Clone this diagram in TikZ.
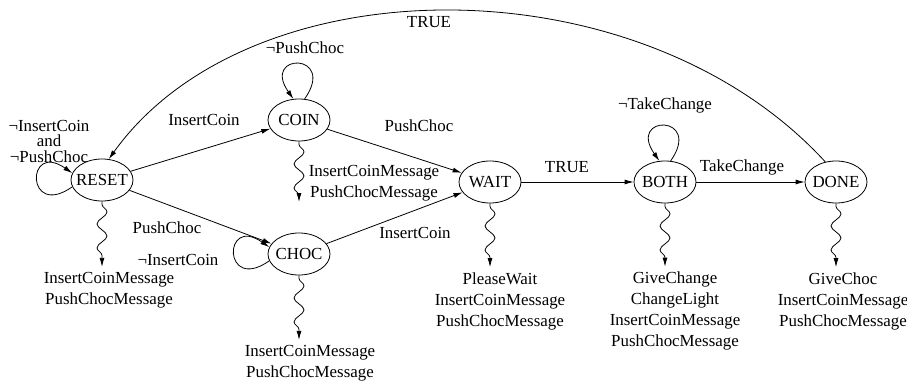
\documentclass[tikz,border=0pt]{standalone}
\usepackage{fontspec}
\setmainfont{Liberation Serif}
\usetikzlibrary{shapes.geometric,arrows.meta,decorations.pathmorphing}
\newcommand{\stname}[1]{\makebox[0pt]{#1}}
\tikzset{
	every node/.style={font=\fontsize{16.9}{21}\selectfont},
	state/.style={draw, ellipse, line width=0.8pt, minimum width=62pt, minimum height=42pt, inner sep=0pt},
	trans/.style={->, line width=0.8pt},
	selfloop/.style={->, line width=0.8pt, min distance=57pt},
	emit/.style={->, line width=0.8pt, shorten >=3pt, decorate,
		decoration={snake, amplitude=5pt, segment length=24pt, pre length=3pt, post length=8pt}},
	outtext/.style={align=center, inner sep=2pt},
	>={Latex[length=9pt,width=5pt]}
}

\begin{document}
\begin{tikzpicture}[x=1pt,y=-1pt]
			\useasboundingbox (0,0) rectangle (907,385);
			% states
			\node[state] (reset) at (102,180) {\stname{RESET}};
			\node[state] (coin) at (299,120) {\stname{COIN}};
			\node[state] (choc) at (299,254) {\stname{CHOC}};
			\node[state] (wait) at (490,182) {\stname{WAIT}};
			\node[state] (both) at (665,182) {\stname{BOTH}};
			\node[state] (done) at (836,182) {\stname{DONE}};
			% transitions
			\draw[trans] (reset) -- (coin);
			\draw[trans] (reset) -- (choc);
			\draw[trans] (coin) -- (wait);
			\draw[trans] (choc) -- (wait);
			\draw[trans] (wait) -- (both);
			\draw[trans] (both) -- (done);
			\draw[trans] (done.118) .. controls (640,-40) and (250,-38) .. (reset.72);
			\draw[selfloop] (reset.193) to[out=215,in=145] (reset.167);
			\draw[selfloop] (choc.193) to[out=215,in=145] (choc.167);
			\draw[selfloop] (coin.75) to[out=55,in=125] (coin.105);
			\draw[selfloop] (both.75) to[out=55,in=125] (both.105);
			% transition labels
			\node (lreset) at (49,141) [align=center, font=\fontsize{16.9}{15.5}\selectfont] {¬InsertCoin\\and\\¬PushChoc};
			\node (lcoin) at (305,48) {¬PushChoc};
			\node (lchoc) at (178,260) {¬InsertCoin};
			\node (lboth) at (665,105) {¬TakeChange};
			\node (lrc) at (204,120) {InsertCoin};
			\node (lrh) at (167,228) {PushChoc};
			\node (lcw) at (419,126) {PushChoc};
			\node (lhw) at (415,233) {InsertCoin};
			\node (lwb) at (567,167) {TRUE};
			\node (lbd) at (742,167) {TakeChange};
			\node (ldr) at (429,22) {TRUE};
			% outputs
			\node[outtext] (oreset) at (109,290) {InsertCoinMessage\\PushChocMessage};
			\node[outtext] (ocoin) at (374,183) {InsertCoinMessage\\PushChocMessage};
			\node[outtext] (ochoc) at (310,363) {InsertCoinMessage\\PushChocMessage};
			\node[outtext] (owait) at (500,301) {PleaseWait\\InsertCoinMessage\\PushChocMessage};
			\node[outtext] (oboth) at (675,311) {GiveChange\\ChangeLight\\InsertCoinMessage\\PushChocMessage};
			\node[outtext] (odone) at (843,301) {GiveChoc\\InsertCoinMessage\\PushChocMessage};
			\coordinate (ecoin) at (299,205);
			\draw[emit] (reset.south) -- (reset.south |- oreset.north);
			\draw[emit] (coin.south) -- (ecoin);
			\draw[emit] (choc.south) -- (choc.south |- ochoc.north);
			\draw[emit] (wait.south) -- (wait.south |- owait.north);
			\draw[emit] (both.south) -- (both.south |- oboth.north);
			\draw[emit] (done.south) -- (done.south |- odone.north);
\end{tikzpicture}
\end{document}
